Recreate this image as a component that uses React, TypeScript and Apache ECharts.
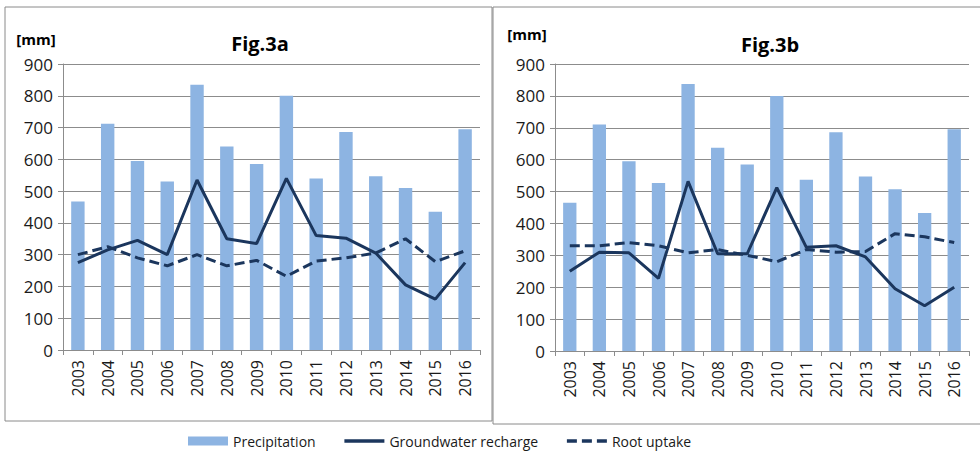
import React, { useEffect, useRef } from "react";
import * as echarts from "echarts";

const years = ["2003", "2004", "2005", "2006", "2007", "2008", "2009", "2010", "2011", "2012", "2013", "2014", "2015", "2016"];

// Fig.3a
const precipA = [467, 712, 595, 530, 835, 640, 585, 800, 540, 686, 547, 510, 435, 695];
const rechargeA = [275, 315, 345, 300, 535, 350, 335, 540, 360, 352, 305, 205, 160, 275];
const rootA = [300, 325, 290, 265, 300, 265, 282, 232, 280, 290, 305, 350, 278, 312];

// Fig.3b
const precipB = [465, 710, 595, 527, 837, 637, 585, 800, 537, 686, 547, 507, 433, 695];
const rechargeB = [250, 310, 308, 228, 532, 305, 305, 512, 325, 330, 295, 195, 142, 200];
const rootB = [330, 330, 340, 330, 308, 318, 300, 280, 318, 310, 312, 368, 358, 340];

const yTicks = { min: 0, max: 900, interval: 100 };
const titles = ["Fig.3a", "Fig.3b"];
const unitLabel = "[mm]";
const seriesNames = ["Precipitation", "Groundwater recharge", "Root uptake"];

const BAR = "#8DB4E2";
const LINE = "#1B365D";
const GRID = "#8C8C8C";
const TXT = "#1a1a1a";
const FONT = "'Open Sans', sans-serif";

export default function App() {
  const ref = useRef<HTMLDivElement>(null);
  useEffect(() => {
    if (!ref.current) return;
    const chart = echarts.init(ref.current, null, { renderer: "svg" });
    const xAxis = (gridIndex: number) => ({
      type: "category",
      gridIndex,
      data: years,
      boundaryGap: true,
      axisLine: { lineStyle: { color: GRID, width: 1 } },
      axisTick: { show: true, length: 5, lineStyle: { color: GRID } },
      axisLabel: { rotate: 90, margin: 10, fontSize: 16, color: TXT, fontFamily: FONT },
    });
    const yAxis = (gridIndex: number) => ({
      type: "value",
      gridIndex,
      ...yTicks,
      axisLine: { show: true, lineStyle: { color: GRID, width: 1 } },
      axisTick: { show: true, length: 5, lineStyle: { color: GRID } },
      splitLine: { show: true, lineStyle: { color: GRID, width: 1 } },
      axisLabel: { margin: 10, fontSize: 17, color: TXT, fontFamily: FONT },
    });
    const mk = (idx: number, p: number[], r: number[], u: number[]) => [
      { name: seriesNames[0], type: "bar", xAxisIndex: idx, yAxisIndex: idx, data: p, barWidth: "45%", itemStyle: { color: BAR } },
      { name: seriesNames[1], type: "line", xAxisIndex: idx, yAxisIndex: idx, data: r, symbol: "none", lineStyle: { color: LINE, width: 3 }, itemStyle: { color: LINE } },
      { name: seriesNames[2], type: "line", xAxisIndex: idx, yAxisIndex: idx, data: u, symbol: "none", lineStyle: { color: LINE, width: 3, type: [10, 5] }, itemStyle: { color: LINE } },
    ];
    chart.setOption({
      animation: false,
      backgroundColor: "#ffffff",
      textStyle: { fontFamily: FONT },
      grid: [
        { left: 63, top: 64, width: 417, height: 286 },
        { left: 555, top: 64, width: 414, height: 287 },
      ],
      xAxis: [xAxis(0), xAxis(1)],
      yAxis: [yAxis(0), yAxis(1)],
      legend: {
        data: [
          { name: seriesNames[0], icon: "rect" },
          { name: seriesNames[1], itemStyle: { opacity: 0 }, lineStyle: { width: 3.5, color: LINE } },
          { name: seriesNames[2], itemStyle: { opacity: 0 }, lineStyle: { width: 3.5, color: LINE, type: [10, 5] } },
        ],
        left: 183,
        top: 429,
        itemWidth: 40,
        itemHeight: 9,
        itemGap: 27,
        textStyle: { fontSize: 14, color: TXT, fontFamily: FONT },
      },
      series: [...mk(0, precipA, rechargeA, rootA), ...mk(1, precipB, rechargeB, rootB)],
      graphic: [
        { type: "rect", shape: { x: 5, y: 7, width: 487, height: 414 }, style: { fill: "none", stroke: "#8a8a8a", lineWidth: 1 }, z: -1 },
        { type: "rect", shape: { x: 493, y: 7, width: 500, height: 417 }, style: { fill: "none", stroke: "#8a8a8a", lineWidth: 1 }, z: -1 },
        { type: "text", x: 260, y: 43, style: { text: titles[0], align: "center", verticalAlign: "middle", font: `bold 20px ${FONT}`, fill: "#000" } },
        { type: "text", x: 770, y: 44, style: { text: titles[1], align: "center", verticalAlign: "middle", font: `bold 20px ${FONT}`, fill: "#000" } },
        { type: "text", x: 36, y: 39, style: { text: unitLabel, align: "center", verticalAlign: "middle", font: `bold 15px ${FONT}`, fill: "#000" } },
        { type: "text", x: 527, y: 34, style: { text: unitLabel, align: "center", verticalAlign: "middle", font: `bold 15px ${FONT}`, fill: "#000" } },
      ],
    });
    return () => chart.dispose();
  }, []);
  return <div ref={ref} style={{ position: "absolute", left: 0, top: 0, width: 980, height: 451 }} />;
}
